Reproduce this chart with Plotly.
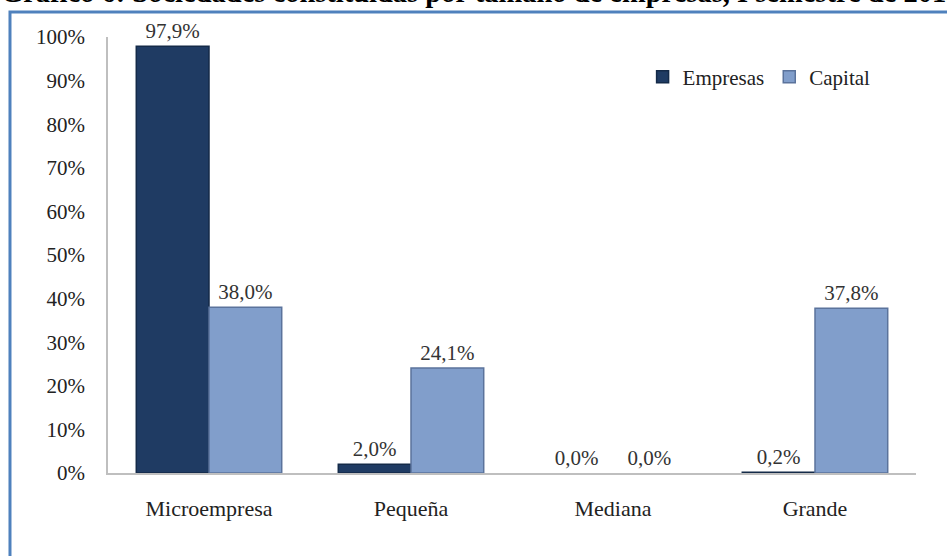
import plotly.graph_objects as go

categories = ["Microempresa", "Pequeña", "Mediana", "Grande"]
empresas = [97.9, 2.0, 0.0, 0.2]
capital = [38.0, 24.1, 0.0, 37.8]
y_ticks = list(range(0, 101, 10))
y_tick_labels = [f"{v}%" for v in y_ticks]
title_text = "Gráfico 6: Sociedades constituidas por tamaño de empresas, I semestre de 2013"

def fmt(v):
    return f"{v:.1f}%".replace(".", ",")

FONT = "Liberation Serif"
FS = 21

fig = go.Figure()
fig.add_trace(go.Bar(
    name="Empresas", x=categories, y=empresas,
    text=[fmt(v) for v in empresas], textposition="outside",
    marker=dict(color="#1f3b63",
                line=dict(color="#142a48", width=[1.5 if v > 0 else 0 for v in empresas])),
    textfont=dict(family=FONT, size=FS, color="#333333"),
    cliponaxis=False,
))
fig.add_trace(go.Bar(
    name="Capital", x=categories, y=capital,
    text=[fmt(v) for v in capital], textposition="outside",
    marker=dict(color="#819ecb",
                line=dict(color="#5b739c", width=[1.5 if v > 0 else 0 for v in capital])),
    textfont=dict(family=FONT, size=FS, color="#333333"),
    cliponaxis=False,
))

fig.update_layout(
    width=947, height=556,
    margin=dict(l=108, r=31, t=37, b=83, autoexpand=False),
    paper_bgcolor="white", plot_bgcolor="white",
    barmode="group", bargap=0.28, bargroupgap=0.0,
    font=dict(family=FONT, size=FS, color="#333333"),
    showlegend=True,
    legend=dict(orientation="h", x=0.95, y=0.955, xanchor="right", yanchor="top",
                font=dict(family=FONT, size=FS, color="#222222"),
                bgcolor="rgba(0,0,0,0)", itemwidth=30, tracegroupgap=0),
    xaxis=dict(showline=True, linecolor="#bfbfbf", linewidth=1.5, ticks="",
               tickfont=dict(family=FONT, size=22, color="#222222"), showgrid=False,
               ticklabelstandoff=15),
    yaxis=dict(range=[0, 100], tickvals=y_ticks, ticktext=y_tick_labels,
               showline=True, linecolor="#bfbfbf", linewidth=1.5, ticks="",
               showgrid=False, zeroline=False, ticklabelstandoff=17,
               tickfont=dict(family=FONT, size=FS, color="#222222")),
)

fig.add_shape(type="rect", xref="paper", yref="paper",
              x0=-0.1213, x1=1.3, y0=-0.4, y1=1.0573,
              line=dict(color="#4f81bd", width=3), fillcolor="rgba(0,0,0,0)", layer="below")

fig.add_annotation(text=f"<b>{title_text}</b>", xref="paper", yref="paper",
                   x=-0.1345, y=1.062, xanchor="left", yanchor="bottom", showarrow=False,
                   font=dict(family=FONT, size=28.5, color="#000000"))

fig.write_html("out.html", config={"displayModeBar": False},
               post_script="document.body.style.margin='0';document.body.style.overflow='hidden';")
